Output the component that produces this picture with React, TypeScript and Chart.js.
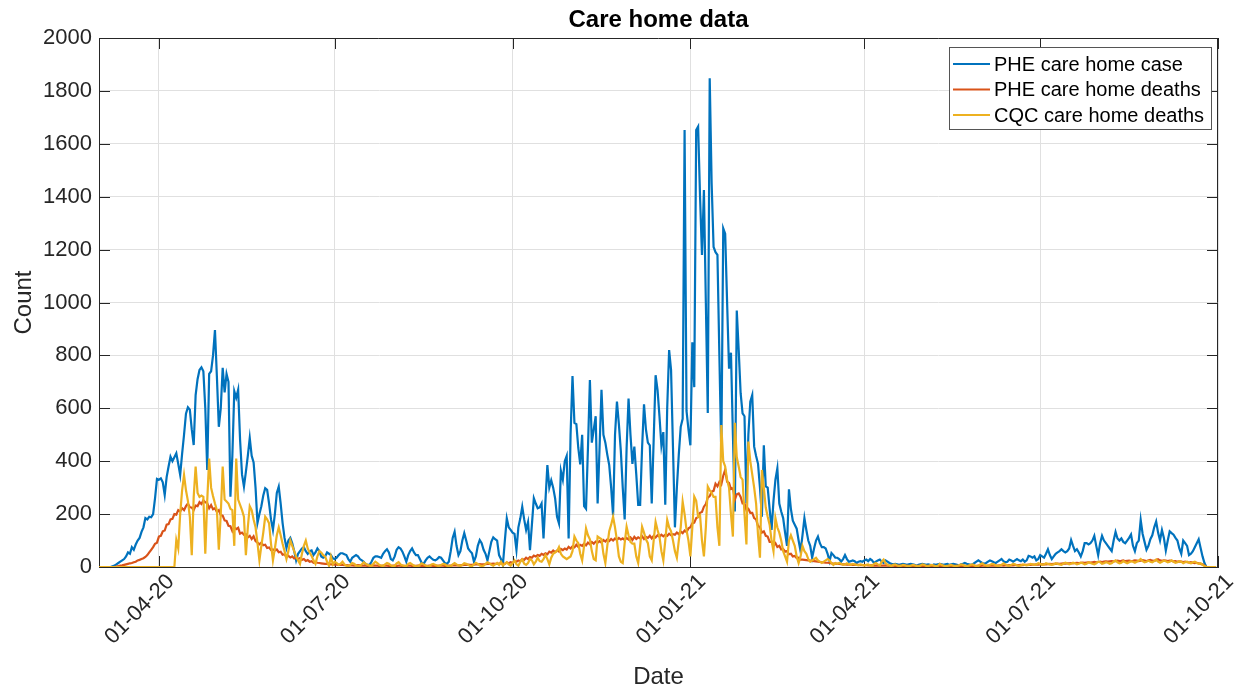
import React, { useEffect, useRef } from "react";
import { Chart, registerables } from "chart.js";
Chart.register(...registerables);

// Day index 0 = 01-03-2020 (daily values)
const tickDays = [31, 122, 214, 306, 396, 487, 579];
const tickLabels = ["01-04-20", "01-07-20", "01-10-20", "01-01-21", "01-04-21", "01-07-21", "01-10-21"];
const yTickStep = 200;
const yMax = 2000;
const seriesNames = ["PHE care home case", "PHE care home deaths", "CQC care home deaths"];

const pheCases = [
  0,0,0,0,0,0,0, 3,5,10,15,20,25,30, 40,55,50,75,65,85,100, 110,133,150,185,180,190,188,
  200,260,333,330,335,320,272, 340,380,417,400,415,430,390, 348,428,500,580,604,595,520,
  461,650,710,745,755,740,600, 367,730,740,800,896,720,530, 600,753,660,730,700,266,420,
  665,640,670,480,350,304,360, 420,488,420,395,300,166,200, 230,270,298,292,240,180,140,
  200,280,304,240,166,110,72, 100,110,90,60,25,50,60, 70,75,60,50,60,63,45,
  55,70,60,40,35,40,55, 50,45,33,30,35,45,52, 52,48,45,30,20,35,40,
  45,40,30,25,20,10,8, 8,20,35,40,40,38,35, 50,60,67,55,30,25,40,
  65,75,70,58,40,20,45, 60,70,55,45,45,30,15, 12,25,35,40,33,27,25,
  30,38,35,25,15,12,20, 60,110,133,80,45,60,100, 128,100,70,60,52,20,40,
  80,102,90,65,50,25,60, 95,112,105,100,45,30,10, 100,184,150,140,130,125,64,
  150,184,228,180,140,170,64, 160,260,240,222,225,240,108, 250,385,300,328,300,260,190,
  165,363,330,400,420,108,500, 722,545,540,450,388,500,230, 220,450,707,470,520,570,240,
  450,670,500,470,425,385,300, 195,500,625,540,440,300,180, 450,637,500,390,455,350,235,
  235,450,615,520,470,460,240, 480,725,670,570,460,510,235, 600,820,745,450,150,300,425,
  530,560,1652,590,520,460,850, 680,1652,1665,1400,1180,1425,1000, 582,1848,1450,1210,1190,1180,800,
  425,1280,1260,1000,750,810,500, 210,970,820,657,581,570,241, 500,625,650,455,420,390,300,
  190,460,305,300,220,140,250, 330,373,240,210,185,130,80, 294,220,175,160,145,100,60,
  120,185,140,100,80,35,70, 100,115,90,75,75,70,50, 22,53,45,35,35,30,20,
  30,45,30,20,22,25,22, 15,20,22,20,25,28,22, 30,25,15,20,25,28,20,
  15,25,20,15,12,10,12, 10,8,10,12,10,8,10, 12,10,8,5,8,10,12,
  10,8,10,8,5,10,8, 10,12,10,8,10,12,8, 10,12,10,8,5,10,12,
  15,12,10,8,10,15,20, 25,20,15,12,15,20,25, 22,18,15,20,25,30,22,
  18,20,28,25,20,25,30, 25,22,28,20,25,42,40, 35,40,25,30,45,40,35,
  50,67,45,30,40,50,55, 60,67,60,55,60,70,102, 80,60,67,55,40,60,90,
  90,85,90,100,118,80,45, 90,118,100,90,80,70,60, 100,133,108,100,108,95,90,
  100,110,123,80,60,90,100, 178,125,95,65,80,105,120, 150,172,130,100,140,110,62,
  100,135,128,122,110,100,70, 50,100,90,80,45,50,60, 75,90,105,72,40,15,0,
  0,0,0,0,0,
];

const pheDeaths = [
  0,0,0,0,0,0,0, 0,0,2,3,5,6,8, 10,12,14,15,18,20,25, 27,30,33,38,45,55,65,
  75,88,92,115,118,135,138, 160,162,180,182,200,198,215, 210,222,215,230,240,226,225,
  215,232,230,245,238,252,245, 242,222,234,218,222,208,215, 196,194,176,174,156,154,136,
  150,143,148,126,130,122,124, 112,118,106,116,98,92,86, 92,82,84,72,74,64,66,
  62,66,56,58,46,48,38, 42,36,40,32,35,30,34, 27,30,23,26,20,22,16,
  18,16,15,14,13,12,12, 11,10,10,9,9,8,8, 8,7,7,6,6,6,5,
  6,7,6,5,5,5,4, 5,5,6,5,5,4,4, 5,5,5,4,4,5,5,
  4,5,5,4,4,4,5, 5,4,4,4,5,5,4, 4,4,4,5,5,4,4,
  4,5,5,5,4,4,5, 5,6,6,7,6,6,7, 8,8,9,8,8,9,10,
  10,11,10,10,11,12,12, 12,13,12,12,13,14,12, 12,17,14,18,16,22,20,
  25,22,30,27,35,30,38, 35,43,40,45,42,50,46, 52,48,58,54,62,56,62,
  58,68,64,70,66,76,70, 78,74,84,76,84,80,88, 82,92,86,94,88,96,92,
  98,92,102,96,104,98,106, 100,108,102,110,104,108,102, 110,104,112,102,114,106,112,
  108,116,106,114,110,118,108, 118,112,120,114,122,116,122, 118,126,120,124,122,130,124,
  134,128,138,132,146,150,165, 168,185,188,205,208,228,238, 262,268,285,288,315,305,322,
  312,345,367,322,318,295,298, 255,275,278,265,240,240,215, 220,205,205,185,180,155,150,
  130,135,118,115,95,95,82, 90,76,80,66,68,58,60, 48,50,40,42,34,35,28,
  28,27,26,25,24,23,22, 21,20,19,18,17,16,16, 15,14,13,13,12,12,11,
  10,10,9,9,9,8,8, 8,8,7,7,7,7,6, 6,6,5,5,6,5,5,
  5,6,5,4,5,5,4, 4,5,4,4,5,4,4, 3,4,4,3,4,4,3,
  3,3,4,3,3,4,3, 3,3,4,3,3,3,4, 3,3,4,4,3,4,4,
  4,3,4,4,5,4,4, 5,4,5,5,4,5,5, 5,6,5,5,6,6,5,
  6,6,7,6,6,7,7, 7,8,7,8,8,9,8, 9,9,10,9,10,10,11,
  10,11,12,11,12,12,13, 12,13,14,13,14,14,15, 14,15,16,15,16,17,16,
  17,18,17,18,19,18,19, 20,19,20,21,20,21,22, 21,22,24,22,23,25,22,
  23,24,22,23,25,24,22, 24,26,24,22,25,27,24, 23,26,29,25,23,25,24,
  22,24,23,21,22,20,21, 20,19,20,18,17,18,16, 15,16,14,12,10,5,0,
  0,0,0,0,0,
];

const cqcDeaths = [
  0,0,0,0,0,0,0, 0,0,0,0,0,0,0, 0,0,0,0,0,0,0, 0,0,0,0,0,0,0,
  0,0,0,0,0,0,0, 0,0,0,0,0,102,70, 200,290,348,290,250,190,45,
  265,380,280,265,270,265,50, 250,410,300,268,240,215,65, 200,380,255,248,240,220,215,
  80,410,255,235,215,190,45, 150,230,215,180,150,90,25, 80,130,190,180,165,88,25,
  70,120,150,120,88,60,30, 60,100,80,60,40,25,12, 50,80,100,70,55,42,25,
  12,40,60,55,45,40,20, 5,40,10,20,15,8,12, 20,10,5,3,8,15,12,
  6,4,3,10,18,12,8, 5,3,12,20,15,8,5, 4,10,15,12,6,3,5,
  14,18,10,6,4,3,12, 15,10,5,3,2,8,14, 10,6,3,2,10,12,8,
  5,3,8,12,10,5,3, 2,10,15,10,6,4,8, 14,12,8,4,3,10,16,
  12,6,4,5,12,18,14, 8,5,10,15,8,20,5, 12,18,10,5,15,25,10,
  5,20,28,12,8,15,30, 25,10,20,35,22,20,30, 45,30,10,35,50,55,60,
  75,50,40,35,30,35,40, 60,115,100,90,50,25,80, 146,120,105,60,30,25,115,
  110,105,50,15,80,135,160, 190,150,100,40,20,15,90, 152,120,95,88,88,40,15,
  80,152,130,105,90,40,25, 100,170,140,115,60,25,100, 178,150,135,100,60,35,100,
  150,247,200,140,100,40,150, 266,250,190,195,100,40,150, 304,290,280,265,265,150,80,
  537,400,380,330,300,200,115, 545,415,380,340,330,200,85, 474,400,350,300,240,120,35,
  367,300,225,190,160,100,60, 185,150,130,100,60,40,20, 100,120,100,80,40,15,40,
  80,60,50,30,20,25,30, 35,25,20,15,20,25,30, 25,15,8,15,12,15,12,
  8,10,14,10,8,12,10, 8,6,10,8,5,8,10, 6,4,12,15,10,6,20,
  28,15,8,5,4,8,10, 6,3,5,8,6,4,3, 5,8,6,4,3,5,10,
  8,4,3,6,8,5,3, 4,12,8,5,3,4,6, 8,5,3,4,6,10,8,
  4,3,5,8,10,6,3, 4,10,14,8,5,4,8, 12,10,6,4,5,8,14,
  10,6,4,8,12,10,6, 4,6,10,8,6,8,12, 10,8,10,14,12,8,10,
  14,12,10,8,10,14,12, 10,8,12,16,14,10,12, 16,14,10,12,16,14,10,
  12,18,15,12,10,14,20, 18,12,14,18,16,12,14, 20,25,18,14,16,22,18,
  14,18,22,20,16,20,24, 30,22,18,20,24,20,18, 22,28,20,16,20,24,22,
  18,20,25,20,16,18,22, 20,14,18,20,16,14,18, 20,15,12,14,8,4,0,
  0,0,0,0,0,
];

const seriesValues = [pheCases, pheDeaths, cqcDeaths];
const seriesColors = ["#0072BD", "#D95319", "#EDB120"];

const FONT = "'Liberation Sans', Arial, Helvetica, sans-serif";
const AXIS = "#262626";

const framePlugin = {
  id: "matlabFrame",
  beforeDatasetsDraw(chart: any) {
    const { ctx, chartArea: a, scales } = chart;
    ctx.save();
    ctx.strokeStyle = AXIS;
    ctx.lineWidth = 1;
    ctx.beginPath();
    ctx.moveTo(a.left, a.top + 0.5);
    ctx.lineTo(a.right, a.top + 0.5);
    ctx.moveTo(a.right - 0.5, a.top);
    ctx.lineTo(a.right - 0.5, a.bottom);
    const tl = 11;
    for (const t of scales.x.ticks) {
      const px = Math.round(scales.x.getPixelForValue(t.value)) + 0.5;
      ctx.moveTo(px, a.bottom);
      ctx.lineTo(px, a.bottom - tl);
      ctx.moveTo(px, a.top);
      ctx.lineTo(px, a.top + tl);
    }
    for (const t of scales.y.ticks) {
      const py = Math.round(scales.y.getPixelForValue(t.value)) + 0.5;
      ctx.moveTo(a.left, py);
      ctx.lineTo(a.left + tl, py);
      ctx.moveTo(a.right, py);
      ctx.lineTo(a.right - tl, py);
    }
    ctx.stroke();
    ctx.restore();
  },
  afterDraw(chart: any) {
    const { ctx, chartArea: a } = chart;
    ctx.save();
    ctx.fillStyle = "#000";
    ctx.font = `bold 24px ${FONT}`;
    ctx.textAlign = "center";
    ctx.textBaseline = "middle";
    ctx.fillText("Care home data", (a.left + a.right) / 2, 20);
    ctx.fillStyle = AXIS;
    ctx.font = `24px ${FONT}`;
    ctx.fillText("Date", (a.left + a.right) / 2, 677);
    ctx.save();
    ctx.translate(24, (a.top + a.bottom) / 2);
    ctx.rotate(-Math.PI / 2);
    ctx.fillText("Count", 0, 0);
    ctx.restore();
    const bx = 949.5, by = 47.5, bw = 262, bh = 82;
    ctx.fillStyle = "#fff";
    ctx.fillRect(bx, by, bw, bh);
    ctx.strokeStyle = "#555";
    ctx.lineWidth = 1;
    ctx.strokeRect(bx, by, bw, bh);
    ctx.font = `20px ${FONT}`;
    ctx.textAlign = "left";
    ctx.textBaseline = "middle";
    seriesNames.forEach((name, i) => {
      const y = 64 + i * 25.5;
      ctx.strokeStyle = seriesColors[i];
      ctx.lineWidth = 2.2;
      ctx.beginPath();
      ctx.moveTo(953, y);
      ctx.lineTo(990, y);
      ctx.stroke();
      ctx.fillStyle = "#000";
      ctx.fillText(name, 994, y + 1);
    });
    ctx.restore();
  },
};

export default function App() {
  const ref = useRef<HTMLCanvasElement | null>(null);
  useEffect(() => {
    if (!ref.current) return;
    const chart = new Chart(ref.current, {
      type: "line",
      data: {
        datasets: seriesValues.map((vals, i) => ({
          label: seriesNames[i],
          data: vals.map((v, d) => ({ x: d, y: v })),
          borderColor: seriesColors[i],
          backgroundColor: seriesColors[i],
          borderWidth: 2.2,
          pointRadius: 0,
          tension: 0,
          fill: false,
          order: 3 - i,
        })),
      },
      options: {
        animation: false,
        responsive: false,
        maintainAspectRatio: false,
        layout: { padding: { left: 0, top: 38, right: 25, bottom: 0 } },
        plugins: {
          legend: { display: false },
          title: { display: false },
          tooltip: { enabled: false },
        },
        scales: {
          x: {
            type: "linear",
            min: 0,
            max: 579,
            afterBuildTicks: (s: any) => {
              s.ticks = tickDays.map((v) => ({ value: v }));
            },
            afterFit: (s: any) => {
              s.height = 120;
            },
            ticks: {
              autoSkip: false,
              minRotation: 45,
              maxRotation: 45,
              padding: 2,
              labelOffset: 12,
              color: AXIS,
              font: { family: FONT, size: 22 },
              callback: (v: any) => {
                const k = tickDays.indexOf(Number(v));
                return k >= 0 ? tickLabels[k] : "";
              },
            },
            grid: { color: "#E0E0E0", drawTicks: false, lineWidth: 1 },
            border: { display: true, color: AXIS, width: 1 },
          },
          y: {
            min: 0,
            max: yMax,
            afterFit: (s: any) => {
              s.width = 99;
            },
            ticks: {
              stepSize: yTickStep,
              padding: 7,
              color: AXIS,
              font: { family: FONT, size: 22 },
              callback: (v: any) => String(v),
            },
            grid: { color: "#E0E0E0", drawTicks: false, lineWidth: 1 },
            border: { display: true, color: AXIS, width: 1 },
          },
        },
      },
      plugins: [framePlugin],
    });
    return () => chart.destroy();
  }, []);
  return (
    <div style={{ position: "absolute", left: 0, top: 0, width: 1243, height: 687, background: "#fff" }}>
      <canvas ref={ref} width={1243} height={687} style={{ width: 1243, height: 687, display: "block" }} />
    </div>
  );
}
